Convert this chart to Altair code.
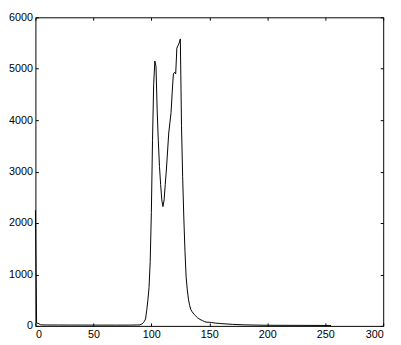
import altair as alt
import pandas as pd

# Histogram (intensity bin -> pixel count)
bins = [0, 1, 2, 3, 4, 5, 10, 20, 30, 40, 50, 60, 70, 80, 88, 90, 92, 93, 94, 95,
        96, 97, 98, 99, 100, 101, 102, 103, 104, 105, 106, 107, 108, 109, 110,
        111, 112, 113, 114, 115, 116, 117, 118, 119, 120, 121, 122, 123, 124, 125,
        126, 127, 128, 129, 130, 131, 132, 133, 134, 135, 136, 137, 138, 139, 140,
        142, 144, 146, 148, 150, 152, 155, 160, 170, 180, 200, 230, 255]
counts = [2250, 55, 50, 45, 25, 20, 18, 17, 16, 16, 15, 15, 15, 15, 18, 20, 40, 60, 90, 135,
          300, 500, 750, 1250, 2200, 3600, 4700, 5150, 5050, 4200, 3600, 3100, 2750, 2450, 2320,
          2450, 2750, 3050, 3400, 3750, 3950, 4150, 4550, 4900, 4930, 4900, 5400, 5450, 5500, 5580,
          3900, 2900, 2100, 1450, 950, 700, 520, 400, 320, 280, 250, 225, 200, 175, 155,
          125, 105, 80, 72, 70, 66, 55, 45, 30, 20, 12, 10, 8]

x_ticks = [0, 50, 100, 150, 200, 250, 300]
y_ticks = [0, 1000, 2000, 3000, 4000, 5000, 6000]

df = pd.DataFrame({"bin": bins, "count": counts})

font = "Liberation Sans"

xscale = alt.Scale(domain=[0, 300], nice=False, zero=False)
yscale = alt.Scale(domain=[0, 6000], nice=False)

common_axis = dict(domain=False, grid=False, ticks=True, tickSize=3, offset=-3,
                   tickColor="black", tickWidth=1, labelColor="black",
                   labelFont=font, labelFontSize=11, format="d")

main = alt.Chart(df).mark_line(color="black", strokeWidth=1).encode(
    x=alt.X("bin:Q", scale=xscale,
            axis=alt.Axis(orient="bottom", values=x_ticks, title=None,
                          labelPadding=3, **common_axis)),
    y=alt.Y("count:Q", scale=yscale,
            axis=alt.Axis(orient="left", values=y_ticks, title=None,
                          labelPadding=3, **common_axis)),
)

box = alt.Chart(df).mark_line(strokeOpacity=0).encode(
    x=alt.X("bin:Q", scale=xscale,
            axis=alt.Axis(orient="top", values=x_ticks, title=None,
                          labels=False, **common_axis)),
    y=alt.Y("count:Q", scale=yscale,
            axis=alt.Axis(orient="right", values=y_ticks, title=None,
                          labels=False, **common_axis)),
)

chart = alt.layer(main, box).resolve_axis(x="independent", y="independent").properties(
    width=355,
    height=315,
    autosize=alt.AutoSizeParams(type="none"),
    padding={"left": 28, "top": 6, "right": 10, "bottom": 16},
    background="white",
).configure_view(stroke="black", strokeWidth=1)

chart.save("out.html", embed_options={"renderer": "svg", "actions": False})
